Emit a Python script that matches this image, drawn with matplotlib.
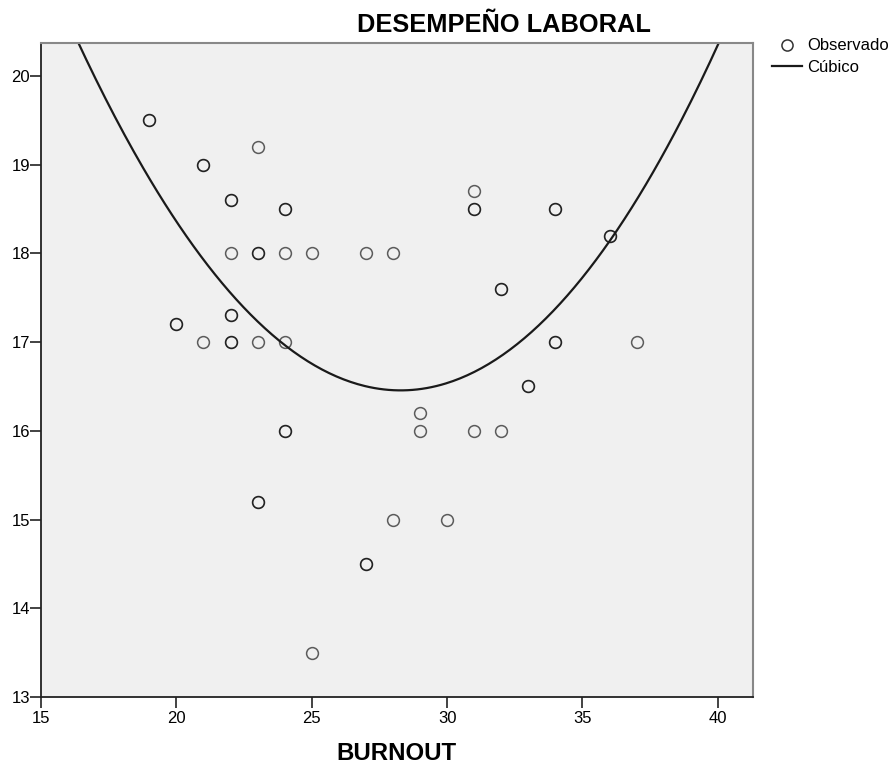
import numpy as np
import matplotlib
matplotlib.use("Agg")
from matplotlib import pyplot as plt
from matplotlib.lines import Line2D

plt.rcParams['font.family'] = ['Liberation Sans', 'DejaVu Sans']

########################################
# data (dark circles are repeated points)
########################################
burnout = [19, 19, 21, 21, 22, 22, 23, 24, 24, 22, 23, 23, 24, 25, 27, 28,
           20, 20, 22, 22, 21, 22, 22, 23, 24, 24, 24, 23, 23, 27, 27, 25,
           28, 30, 29, 29, 31, 32, 31, 31, 31, 34, 34, 36, 36, 32, 32,
           34, 34, 37, 33, 33]
desempeno = [19.5, 19.5, 19.0, 19.0, 18.6, 18.6, 19.2, 18.5, 18.5, 18.0, 18.0, 18.0, 18.0, 18.0, 18.0, 18.0,
             17.2, 17.2, 17.3, 17.3, 17.0, 17.0, 17.0, 17.0, 17.0, 16.0, 16.0, 15.2, 15.2, 14.5, 14.5, 13.5,
             15.0, 15.0, 16.2, 16.0, 16.0, 16.0, 18.7, 18.5, 18.5, 18.5, 18.5, 18.2, 18.2, 17.6, 17.6,
             17.0, 17.0, 17.0, 16.5, 16.5]

# cubic fit coefficients (y = a + b*t + c*t^2 + d*t^3, t = x - x0)
x0 = 28.14
cub_a, cub_b, cub_c, cub_d = 16.456, -0.008, 0.02798, 3e-5

xticks = [15, 20, 25, 30, 35, 40]
yticks = [13, 14, 15, 16, 17, 18, 19, 20]

########################################
# figure
########################################
fig = plt.figure(figsize=(8.96, 7.69), dpi=100)
ax = fig.add_axes([0.0458, 0.0936, 0.7946, 0.8505])
ax.set_facecolor("#f0f0f0")

ax.plot(burnout, desempeno, linestyle="none", marker="o", markersize=8.5,
        markerfacecolor="none", markeredgecolor=(0, 0, 0, 0.62), markeredgewidth=1.1)

xs = np.linspace(15, 41.3, 300)
t = xs - x0
ax.plot(xs, cub_a + cub_b*t + cub_c*t**2 + cub_d*t**3, color="#1a1a1a", lw=1.6)

ax.set_xlim(15, 41.3)
ax.set_ylim(13, 20.37)
ax.set_xticks(xticks)
ax.set_yticks(yticks)
ax.tick_params(direction="out", length=8, width=1.2, color="#222222", labelsize=12, pad=2)
ax.tick_params(axis="y", pad=0)
for s in ("left", "bottom"):
  ax.spines[s].set_color("#222222")
  ax.spines[s].set_linewidth(1.3)
for s in ("top", "right"):
  ax.spines[s].set_color("#888888")
  ax.spines[s].set_linewidth(1.5)

fig.text(0.562, 0.9584, "DESEMPEÑO LABORAL", ha="center", va="baseline", fontsize=18.3, fontweight="bold")
fig.text(0.443, 0.012, "BURNOUT", ha="center", va="baseline", fontsize=17.3, fontweight="bold")

handles = [Line2D([], [], linestyle="none", marker="o", markersize=8, markerfacecolor="none",
                  markeredgecolor="#333333", markeredgewidth=1.1),
           Line2D([], [], color="#1a1a1a", lw=1.6)]
fig.legend(handles, ["Observado", "Cúbico"], loc="upper left", bbox_to_anchor=(0.862, 0.95),
           frameon=False, fontsize=12, handlelength=1.8, handletextpad=0.3, labelspacing=0.4,
           borderpad=0, borderaxespad=0)

fig.savefig("out.png", dpi=100)
